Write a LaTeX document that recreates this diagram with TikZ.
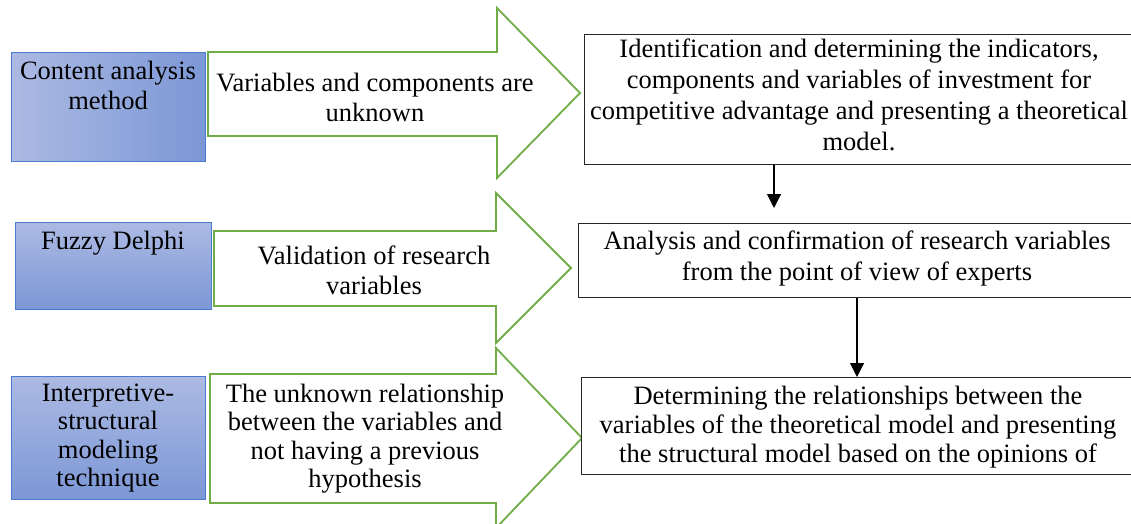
\documentclass[tikz,border=0pt]{standalone}
\usepackage{fontspec}
\setmainfont{Liberation Serif}
\usetikzlibrary{arrows.meta}
\definecolor{bluelight}{HTML}{ACBAE3}
\definecolor{bluedark}{HTML}{7C97D6}
\definecolor{blueedge}{HTML}{4A7BD0}
\definecolor{arrowgreen}{HTML}{70AD47}
\begin{document}
\begin{tikzpicture}[x=1pt,y=-1pt,
  method/.style={draw=blueedge, line width=0.8pt, inner sep=0pt, anchor=north west},
  rbox/.style={draw=black!85, line width=1.1pt, inner sep=0pt, anchor=north west, fill=white},
  txt/.style={font=\fontsize{26.5}{30}\selectfont, align=center, inner sep=0pt, anchor=north},
  garrow/.style={draw=arrowgreen, line width=1.8pt, fill=white, line join=miter},
  conn/.style={draw=black, line width=1.1pt, -{Triangle[length=14pt,width=14pt]}}]
\useasboundingbox (0,0) rectangle (1131,524);
\clip (0,0) rectangle (1131,524);
% left method boxes
\node[method, left color=bluelight, right color=bluedark, minimum width=194pt, minimum height=109pt] (m1) at (11,52) {};
\node[method, top color=bluelight, bottom color=bluedark, minimum width=196pt, minimum height=87pt] (m2) at (15,222) {};
\node[method, top color=bluelight, bottom color=bluedark, minimum width=194pt, minimum height=123pt] (m3) at (11,376) {};
% green block arrows
\draw[garrow] (208,52) -- (497,52) -- (497,8) -- (580,93) -- (497,178) -- (497,136) -- (208,136) -- cycle;
\draw[garrow] (214,231) -- (496,231) -- (496,193) -- (571,268) -- (496,343) -- (496,306) -- (214,306) -- cycle;
\draw[garrow] (210,374) -- (496,374) -- (496,348) -- (582,438) -- (496,528) -- (496,503) -- (210,503) -- cycle;
% right boxes
\node[rbox, minimum width=551pt, minimum height=130pt] (rb1) at (584,34) {};
\node[rbox, minimum width=557pt, minimum height=74pt] (rb2) at (578,223) {};
\node[rbox, minimum width=554pt, minimum height=97pt] (rb3) at (581,377) {};
% texts
\node[txt] (m1t) at (108,60.5) {Content analysis\\method};
\node[txt] (m2t) at (113,230.5) {Fuzzy Delphi};
\node[txt, font=\fontsize{26.5}{28.5}\selectfont] (m3t) at (108,383.5) {Interpretive-\\structural\\modeling\\technique};
\node[txt] (a1t) at (375,72.5) {Variables and components are\\unknown};
\node[txt] (a2t) at (374,245.5) {Validation of research\\variables};
\node[txt, font=\fontsize{26.5}{28.5}\selectfont] (a3t) at (365,383.5) {The unknown relationship\\between the variables and\\not having a previous\\hypothesis};
\node[txt, font=\fontsize{26.5}{31}\selectfont] (r1t) at (859,38.5) {Identification and determining the indicators,\\components and variables of investment for\\competitive advantage and presenting a theoretical\\model.};
\node[txt, font=\fontsize{26.5}{31}\selectfont] (r2t) at (857,230.5) {Analysis and confirmation of research variables\\from the point of view of experts};
\node[txt, font=\fontsize{26.5}{29}\selectfont] (r3t) at (858,385.5) {Determining the relationships between the\\variables of the theoretical model and presenting\\the structural model based on the opinions of};
% connectors
\coordinate (d1) at (774,208);
\coordinate (x2) at (857,0);
\draw[conn] (rb1.south -| d1) -- (d1);
\draw[conn] (rb2.south -| x2) -- (rb3.north -| x2);
\end{tikzpicture}
\end{document}
